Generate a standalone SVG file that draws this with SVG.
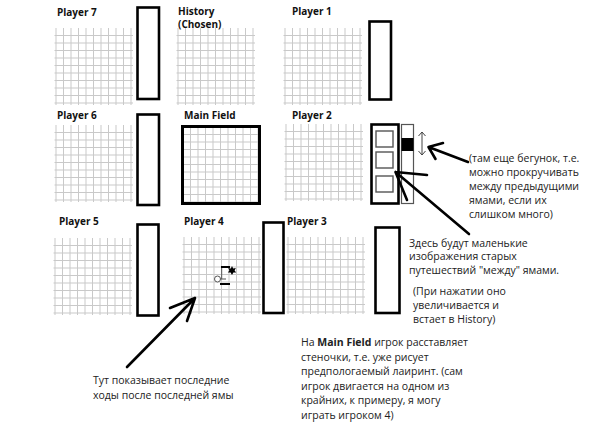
<svg xmlns="http://www.w3.org/2000/svg" xmlns:xlink="http://www.w3.org/1999/xlink" width="604" height="431" viewBox="0 0 604 431">
<style>
.lbl{font-family:"Open Sans","DejaVu Sans",sans-serif;font-weight:bold;font-size:10px;fill:#111}
.txt{font-family:"Open Sans","DejaVu Sans",sans-serif;font-size:10.5px;fill:#222}
.g line{stroke:#c9c9c9;stroke-width:1}
.box{fill:#fff;stroke:#000;stroke-width:2.6}
.th{fill:#fff;stroke:#555;stroke-width:1.4}
.arr{fill:none;stroke:#000;stroke-width:2.6;stroke-linecap:round;stroke-linejoin:round}
</style>
<defs>
<g id="grid" class="g">
<line x1="0" y1="0" x2="0" y2="77"/><line x1="7.5" y1="0" x2="7.5" y2="77"/><line x1="15" y1="0" x2="15" y2="77"/><line x1="22.5" y1="0" x2="22.5" y2="77"/><line x1="30" y1="0" x2="30" y2="77"/><line x1="37.5" y1="0" x2="37.5" y2="77"/><line x1="45" y1="0" x2="45" y2="77"/><line x1="52.5" y1="0" x2="52.5" y2="77"/><line x1="60" y1="0" x2="60" y2="77"/><line x1="67.5" y1="0" x2="67.5" y2="77"/><line x1="75" y1="0" x2="75" y2="77"/>
<line x1="-1.5" y1="7.5" x2="77" y2="7.5"/><line x1="-1.5" y1="15" x2="77" y2="15"/><line x1="-1.5" y1="22.5" x2="77" y2="22.5"/><line x1="-1.5" y1="30" x2="77" y2="30"/><line x1="-1.5" y1="37.5" x2="77" y2="37.5"/><line x1="-1.5" y1="45" x2="77" y2="45"/><line x1="-1.5" y1="52.5" x2="77" y2="52.5"/><line x1="-1.5" y1="60" x2="77" y2="60"/><line x1="-1.5" y1="67.5" x2="77" y2="67.5"/><line x1="-1.5" y1="75" x2="77" y2="75"/>
</g>
</defs>
<rect width="604" height="431" fill="#fff"/>

<g id="player7">
<text class="lbl" x="57" y="16">Player 7</text>
<use xlink:href="#grid" x="56" y="28"/>
<rect class="box" x="137.5" y="7.5" width="21.5" height="91.5"/>
</g>
<g id="history">
<text class="lbl" x="178" y="15">History</text>
<text class="lbl" x="178" y="28">(Chosen)</text>
<use xlink:href="#grid" x="178" y="28"/>
</g>
<g id="player1">
<text class="lbl" x="292" y="15">Player 1</text>
<use xlink:href="#grid" x="285" y="28"/>
<rect class="box" x="369.5" y="21.5" width="21.5" height="78"/>
</g>
<g id="player6">
<text class="lbl" x="57" y="119">Player 6</text>
<use xlink:href="#grid" x="56" y="125"/>
<rect class="box" x="137.5" y="114.5" width="21.5" height="90.5"/>
</g>
<g id="mainfield">
<text class="lbl" x="184" y="119">Main Field</text>
<use xlink:href="#grid" x="183" y="127"/>
<rect x="182.5" y="126.5" width="77" height="77" fill="none" stroke="#000" stroke-width="3"/>
</g>
<g id="player2">
<text class="lbl" x="292" y="119">Player 2</text>
<use xlink:href="#grid" x="286" y="124"/>
<rect class="box" x="371.5" y="124.5" width="27" height="79"/>
<rect class="th" x="376" y="131" width="17" height="16"/>
<rect class="th" x="376" y="152" width="17" height="16"/>
<rect class="th" x="376" y="176" width="17" height="16"/>
<rect x="401.5" y="124.5" width="12" height="79" fill="#fff" stroke="#555" stroke-width="1.2"/>
<rect x="401.5" y="138" width="12" height="13" fill="#000"/>
<path d="M422 132 V155 M418.5 136 L422 132 L425.5 136 M418.5 151 L422 155 L425.5 151" fill="none" stroke="#444" stroke-width="1"/>
</g>
<g id="player5">
<text class="lbl" x="59" y="225">Player 5</text>
<use xlink:href="#grid" x="55" y="238"/>
<rect class="box" x="137.5" y="224.5" width="21" height="91"/>
</g>
<g id="player4">
<text class="lbl" x="184" y="225">Player 4</text>
<use xlink:href="#grid" x="184" y="237"/>
<rect class="box" x="263.5" y="222.5" width="20" height="90.5"/>
<g id="piece">
<circle cx="217.5" cy="279" r="3" fill="#fff" stroke="#555" stroke-width="1"/>
<path d="M220.5 279 H226 M221.7 279 V267" fill="none" stroke="#555" stroke-width="1"/>
<path d="M221 267 H230 M220 284 H230" fill="none" stroke="#000" stroke-width="2"/>
<polygon points="232,266 233.2,268.6 235.8,268 234.6,270.4 236.2,272.6 233.4,272.6 232,275 230.6,272.6 227.8,272.6 229.4,270.4 228.2,268 230.8,268.6" fill="#000"/>
</g>
</g>
<g id="player3">
<text class="lbl" x="287" y="225">Player 3</text>
<use xlink:href="#grid" x="288" y="237"/>
<rect class="box" x="375.5" y="227.5" width="24" height="85.5"/>
</g>

<g id="connectors">
<path class="arr" d="M468 162 L428.5 147 M443 143 L428.5 147 L435.5 159"/>
<path class="arr" d="M469 234 L395.5 172 M427 175 L395.5 172 L407 200"/>
<path class="arr" d="M127 367 L195 298 M170 308 L195 298 L187 321"/>
</g>

<g id="notes">
<text class="txt" x="469" y="162">(там еще бегунок, т.е.</text>
<text class="txt" x="469" y="176">можно прокручивать</text>
<text class="txt" x="469" y="190">между предыдущими</text>
<text class="txt" x="469" y="204">ямами, если их</text>
<text class="txt" x="469" y="218">слишком много)</text>

<text class="txt" x="409" y="247">Здесь будут маленькие</text>
<text class="txt" x="409" y="260">изображения старых</text>
<text class="txt" x="409" y="274">путешествий "между" ямами.</text>

<text class="txt" x="413" y="295">(При нажатии оно</text>
<text class="txt" x="413" y="309">увеличивается и</text>
<text class="txt" x="413" y="323">встает в History)</text>

<text class="txt" x="301" y="346">На <tspan font-weight="bold">Main Field</tspan> игрок расставляет</text>
<text class="txt" x="301" y="360.5">стеночки, т.е. уже рисует</text>
<text class="txt" x="301" y="375">предпологаемый лаиринт. (сам</text>
<text class="txt" x="301" y="389.5">игрок двигается на одном из</text>
<text class="txt" x="301" y="404">крайних, к примеру, я могу</text>
<text class="txt" x="301" y="418.5">играть игроком 4)</text>

<text class="txt" x="93" y="384">Тут показывает последние</text>
<text class="txt" x="93" y="399">ходы после последней ямы</text>
</g>
</svg>
